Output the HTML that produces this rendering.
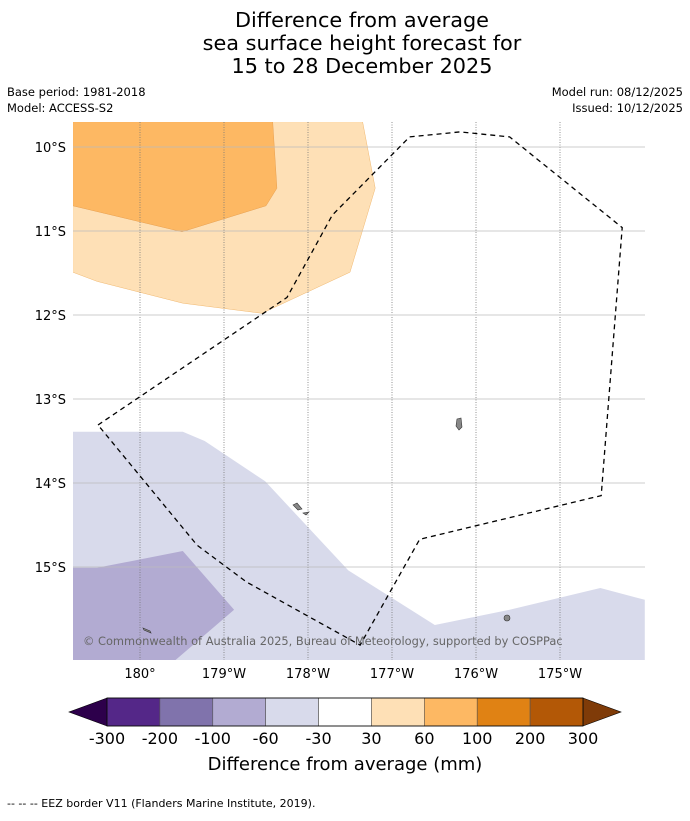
<!DOCTYPE html>
<html><head><meta charset="utf-8"><style>
body{margin:0;background:#fff;font-family:"Liberation Sans","DejaVu Sans",sans-serif;}
svg text{font-family:"DejaVu Sans","Liberation Sans",sans-serif;}
</style></head><body>
<svg id="c" width="690" height="816" xmlns="http://www.w3.org/2000/svg">
<text x="362" y="27" font-size="20.8" text-anchor="middle">Difference from average</text>
<text x="362" y="50" font-size="20.8" text-anchor="middle">sea surface height forecast for</text>
<text x="362" y="73" font-size="20.8" text-anchor="middle">15 to 28 December 2025</text>
<text x="7" y="96" font-size="11.5">Base period: 1981-2018</text>
<text x="7" y="112" font-size="11.5">Model: ACCESS-S2</text>
<text x="683" y="96" font-size="11.5" text-anchor="end">Model run: 08/12/2025</text>
<text x="683" y="112" font-size="11.5" text-anchor="end">Issued: 10/12/2025</text>
<g id="map"></g>
<g id="cbar"></g>
<text x="345" y="770" font-size="18" text-anchor="middle">Difference from average (mm)</text>
<text x="7" y="807" font-size="11">--  --  -- EEZ border V11 (Flanders Marine Institute, 2019).</text>
</svg>
<script>
const NS="http://www.w3.org/2000/svg";
const lonTicks=[180,181,182,183,184,185];
const lonLabels=["180°","179°W","178°W","177°W","176°W","175°W"];
const latTicks=[10,11,12,13,14,15];
const latLabels=["10°S","11°S","12°S","13°S","14°S","15°S"];
const lightOrange=[[179.2,9.7],[182.65,9.7],[182.8,10.49],[182.5,11.49],[181.45,11.98],[180.51,11.86],[179.49,11.6],[179.2,11.49]];
const midOrange=[[179.2,9.7],[181.58,9.7],[181.63,10.49],[181.5,10.7],[180.5,11.01],[179.2,10.7]];
const lightPurple=[[179.2,13.39],[180.51,13.39],[180.77,13.5],[181.49,13.98],[182.48,15.04],[183.51,15.69],[184.4,15.51],[185.48,15.25],[186.01,15.39],[186.01,16.11],[179.2,16.11]];
const midPurple=[[179.2,15.01],[179.49,15.01],[180.51,14.81],[181.12,15.51],[180.42,16.11],[179.2,16.11]];
const eez=[[179.5,13.31],[181.75,11.79],[182.29,10.81],[183.21,9.88],[183.81,9.82],[184.4,9.88],[185.74,10.96],[185.49,14.15],[183.33,14.67],[182.62,15.93],[181.27,15.18],[180.68,14.74],[179.5,13.31]];
const cbColors=["#542788","#8073ac","#b2abd2","#d8daeb","#ffffff","#fee0b6","#fdb863","#e08214","#b35806"];
const cbLabels=["-300","-200","-100","-60","-30","30","60","100","200","300"];
const X0=73,X1=645,Y0=122,Y1=660;
const xs=lon=>140+(lon-180)*84, ys=lat=>147+(lat-10)*84;
const map=document.getElementById('map'), cb=document.getElementById('cbar');
function mk(t,a,p){const e=document.createElementNS(NS,t);for(const k in a)e.setAttribute(k,a[k]);p.appendChild(e);return e;}
function pts(arr){return arr.map(p=>xs(p[0]).toFixed(1)+","+ys(p[1]).toFixed(1)).join(" ");}
const cp=mk('clipPath',{id:'mc'},map);mk('rect',{x:X0,y:Y0,width:X1-X0,height:Y1-Y0},cp);
const g=mk('g',{'clip-path':'url(#mc)'},map);
let e;
e=mk('polygon',{points:pts(lightOrange),fill:'#fee0b6',stroke:'#f0b870','stroke-width':0.5},g);


e=mk('polygon',{points:pts(midOrange),fill:'#fdb863',stroke:'#e8a050','stroke-width':0.5},g);


e=mk('polygon',{points:pts(lightPurple),fill:'#d8daeb'},g);


e=mk('polygon',{points:pts(midPurple),fill:'#b2abd2'},g);


lonTicks.forEach((v,i)=>{
 e=mk('line',{x1:xs(v),x2:xs(v),y1:Y0,y2:Y1,stroke:'#777','stroke-width':0.8,'stroke-dasharray':'1,1.5'},g);
 
 
 e=mk('text',{x:xs(v),y:Y1+18,'font-size':13,'text-anchor':'middle'},map);e.textContent=lonLabels[i];
 
 
});
latTicks.forEach((v,i)=>{
 e=mk('line',{x1:X0,x2:X1,y1:ys(v),y2:ys(v),stroke:'#bbb','stroke-width':0.8},g);
 
 
 e=mk('text',{x:X0-7,y:ys(v)+5,'font-size':13,'text-anchor':'end'},map);e.textContent=latLabels[i];
 
 
});
e=mk('polyline',{points:pts(eez),fill:'none',stroke:'#000','stroke-width':1.3,'stroke-dasharray':'5,4'},g);


[[459,424,'M457,419 L461,418 L462,427 L459,430 L456,426Z'],[300,509,'M293,505 L297,503 L302,509 L298,510Z M303,513 L309,512 L306,515Z'],[507,618,'M504,618 a3,3 0 1,0 6,0 a3,3 0 1,0 -6,0Z'],[147,630,'M143,628 L150,631 L151,633 L144,630Z']].forEach(p=>{
 e=mk('path',{d:p[2],fill:'#888',stroke:'#333','stroke-width':0.6},g);
 
 
});
e=mk('text',{x:83,y:645,'font-size':11.4,fill:'#666'},g);e.textContent="© Commonwealth of Australia 2025, Bureau of Meteorology, supported by COSPPac";


const CX0=107,CX1=583,CY0=698,CY1=726,sw=(CX1-CX0)/cbColors.length;
e=mk('polygon',{points:`${CX0},${CY0} ${CX0},${CY1} 69,${(CY0+CY1)/2}`,fill:'#2d004b',stroke:'#000','stroke-width':0.6},cb);


e=mk('polygon',{points:`${CX1},${CY0} ${CX1},${CY1} 621,${(CY0+CY1)/2}`,fill:'#7f3b08',stroke:'#000','stroke-width':0.6},cb);


cbColors.forEach((c,i)=>{
 e=mk('rect',{x:CX0+i*sw,y:CY0,width:sw,height:CY1-CY0,fill:c,stroke:'#555','stroke-width':0.6},cb);
 
 
});
mk('rect',{x:CX0,y:CY0,width:CX1-CX0,height:CY1-CY0,fill:'none',stroke:'#000','stroke-width':0.8},cb);
cbLabels.forEach((l,i)=>{
 e=mk('text',{x:CX0+i*sw,y:744,'font-size':16,'text-anchor':'middle'},cb);e.textContent=l;
 
 
});
</script>
</body></html>
